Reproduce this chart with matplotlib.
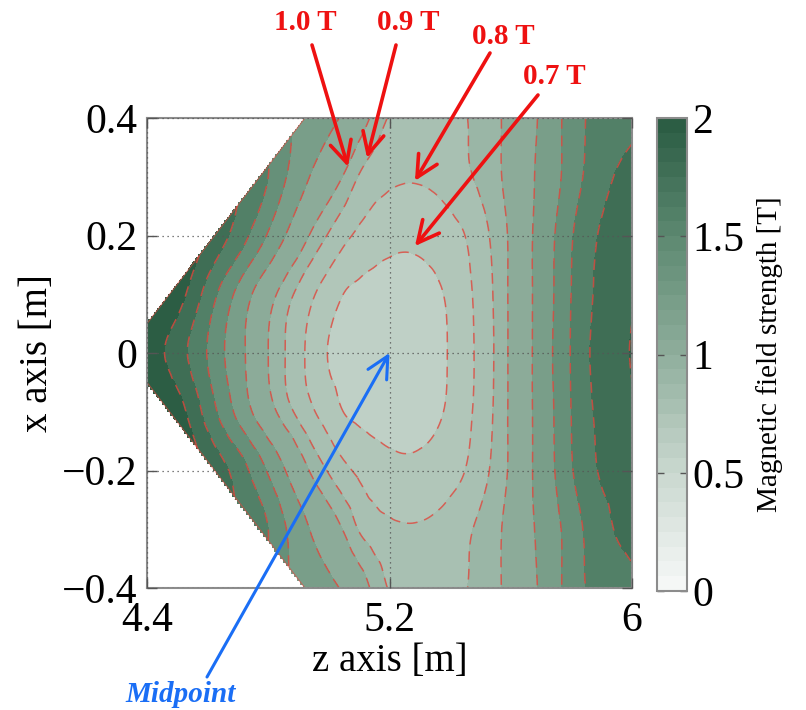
import numpy as np
import matplotlib
matplotlib.use("Agg")
import matplotlib.pyplot as plt
import matplotlib.tri as mtri
from matplotlib.colors import LinearSegmentedColormap, ListedColormap, Normalize
from matplotlib.cm import ScalarMappable

plt.rcParams["font.family"] = ["Liberation Serif", "DejaVu Serif"]

# ---- field samples: B [T] on a z/x grid (x >= 0 rows, mirrored about x = 0) ----
z_nodes = np.linspace(4.40, 6.00, 33)
x_rows = [0.0, 0.1, 0.2, 0.3, 0.4]

B_x00 = [2.15, 2.02, 1.89, 1.75, 1.59, 1.42, 1.27, 1.13, 1.00, 0.91, 0.83, 0.76,
         0.695, 0.666, 0.646, 0.634, 0.630, 0.635, 0.650, 0.673,
         0.708, 0.764, 0.829, 0.911, 1.022, 1.144, 1.282, 1.439, 1.613, 1.774, 1.87, 1.95,
         2.01]
B_x01 = [2.45, 2.25, 2.10, 1.92, 1.72, 1.53, 1.35, 1.19, 1.06, 0.955, 0.875, 0.806,
         0.751, 0.698, 0.679, 0.667, 0.661, 0.661, 0.669, 0.685,
         0.716, 0.771, 0.836, 0.916, 1.022, 1.144, 1.277, 1.425, 1.603, 1.755, 1.847, 1.915,
         1.98]
B_x02 = [2.60, 2.45, 2.30, 2.12, 1.98, 1.85, 1.72, 1.55, 1.38, 1.22, 1.08, 0.97,
         0.89, 0.825, 0.781, 0.749, 0.729, 0.720, 0.724, 0.738,
         0.764, 0.801, 0.861, 0.931, 1.022, 1.144, 1.274, 1.414, 1.583, 1.723, 1.823, 1.877,
         1.93]
B_x03 = [2.50, 2.35, 2.20, 2.08, 1.97, 1.87, 1.80, 1.74, 1.60, 1.43, 1.29, 1.17,
         1.08, 0.99, 0.893, 0.846, 0.820, 0.809, 0.810, 0.821,
         0.845, 0.882, 0.920, 0.972, 1.048, 1.143, 1.245, 1.357, 1.494, 1.63, 1.73, 1.816,
         1.87]
B_x04 = [2.50, 2.40, 2.25, 2.10, 1.95, 1.82, 1.70, 1.60, 1.51, 1.44, 1.37, 1.312,
         1.248, 1.174, 1.073, 0.971, 0.892, 0.871, 0.861, 0.862,
         0.873, 0.895, 0.935, 0.978, 1.043, 1.13, 1.225, 1.352, 1.482, 1.605, 1.645, 1.69,
         1.74]

# wall of the device: z of the left boundary as a function of |x|
wall_absx = [0.0, 0.05, 0.40]
wall_z = [4.40, 4.40, 4.921]

# contour levels (T)
line_levels = [0.7, 0.8, 0.9, 1.0, 1.2, 1.4, 1.6, 1.8, 2.0]
fill_levels = [0.0] + line_levels + [3.0]
band_values = [0.6] + line_levels  # colour value of each filled band

# ---- colours ----
cmap = LinearSegmentedColormap.from_list(
    "bgreen", ["#f5f7f6", "#c8d7ce", "#8fae9c", "#5e8a72", "#2c5d44"])
cmap32 = ListedColormap(cmap(np.linspace(0, 1, 32)))
norm = Normalize(0, 2)
band_colors = [cmap32(norm(v)) for v in band_values]
red = "#ee1111"
line_red = "#e0483e"
blue = "#1a6ef5"

# ---- build full grid, triangulated in index space for a smooth refinement ----
rows = [B_x00, B_x01, B_x02, B_x03, B_x04]
x_full = np.array([-x for x in x_rows[:0:-1]] + x_rows)
B_full = np.array(rows[:0:-1] + rows)
ny, nz = B_full.shape
J, I = np.meshgrid(np.arange(ny), np.arange(nz), indexing="ij")
tris = []
for j in range(ny - 1):
    for i in range(nz - 1):
        a = j * nz + i
        b, c, d = a + 1, a + nz, a + nz + 1
        tris += [[a, b, d], [a, d, c]]
tri_idx = mtri.Triangulation(I.ravel().astype(float), J.ravel().astype(float),
                             triangles=np.array(tris))
interp = mtri.CubicTriInterpolator(tri_idx, B_full.ravel(), kind="geom")
refiner = mtri.UniformTriRefiner(tri_idx)
tri_r, B_r = refiner.refine_field(B_full.ravel(), triinterpolator=interp, subdiv=4)

# index space -> physical coordinates
zr = np.interp(tri_r.x, np.arange(nz), z_nodes)
xr = np.interp(tri_r.y, np.arange(ny), x_full)
tri_f = mtri.Triangulation(zr, xr, triangles=tri_r.triangles)
cz = zr[tri_f.triangles].mean(axis=1)
cx = xr[tri_f.triangles].mean(axis=1)
tri_f.set_mask(cz < np.interp(np.abs(cx), wall_absx, wall_z))

# ---- figure ----
fig = plt.figure(figsize=(8.06, 7.10), dpi=100)
ax = fig.add_axes([147 / 806, 1 - 588 / 710, 485 / 806, 470 / 710])

ax.tricontourf(tri_f, B_r, levels=fill_levels, colors=band_colors)
ax.tricontour(tri_f, B_r, levels=line_levels, colors=line_red,
              linestyles=[(0, (7, 4.5))], linewidths=1.1, alpha=0.8)

# wall outline
wx = np.array([0.4, 0.05, -0.05, -0.4])
wz = np.interp(np.abs(wx), wall_absx, wall_z)
ax.plot(wz, wx, color=line_red, lw=0.8, alpha=0.6)

ax.set_xlim(4.4, 6.0)
ax.set_ylim(-0.4, 0.4)
ax.set_xticks([4.4, 5.2, 6.0])
ax.set_xticklabels(["4.4", "5.2", "6"])
ax.set_yticks([-0.4, -0.2, 0, 0.2, 0.4])
ax.set_yticklabels(["\u22120.4", "\u22120.2", "0", "0.2", "0.4"])
ax.tick_params(direction="in", top=True, right=True, length=7, width=1,
               color="#555555", labelsize=30)
ax.tick_params(axis="x", pad=10)
ax.tick_params(axis="y", pad=7)
ax.grid(True, linestyle=(0, (1, 3)), color="#555555", linewidth=0.9)
ax.set_axisbelow(False)
for s in ax.spines.values():
    s.set_color("#8c8c8c")
    s.set_linewidth(1.5)
ax.set_xlabel("z axis [m]", fontsize=28, labelpad=2)
ax.set_ylabel("x axis [m]", fontsize=28, labelpad=4)

# ---- colour bar ----
cax = fig.add_axes([657 / 806, 1 - 591 / 710, 30 / 806, 473 / 710])
sm = ScalarMappable(norm=norm, cmap=cmap32)
cb = fig.colorbar(sm, cax=cax, ticks=[0, 0.5, 1, 1.5, 2])
cb.ax.set_yticklabels(["0", "0.5", "1", "1.5", "2"])
cb.ax.tick_params(direction="in", left=True, right=True, length=5, width=1,
                  color="#555555", labelsize=30, pad=4)
cb.outline.set_edgecolor("#8c8c8c")
cb.outline.set_linewidth(1.5)
cb.set_label("Magnetic field strength [T]", fontsize=21, labelpad=8)

# ---- annotations ----
def fig_pt(px, py):
    return (px / 806, 1 - py / 710)

arrow_kw = dict(arrowstyle="->,head_length=0.7,head_width=0.35", lw=2.6,
                color=red, shrinkA=0, shrinkB=0, mutation_scale=22)
labels = [
    ("1.0 T", (5.063, 0.317), (312, 45), (305, 22)),
    ("0.9 T", (5.126, 0.332), (396, 45), (408, 22)),
    ("0.8 T", (5.284, 0.293), (490, 53), (503, 36)),
    ("0.7 T", (5.284, 0.182), (538, 95), (554, 76)),
]
for text, tip, tail, tpos in labels:
    ax.annotate("", xy=tip, xycoords="data", xytext=fig_pt(*tail),
                textcoords="figure fraction", arrowprops=arrow_kw,
                annotation_clip=False)
    fig.text(*fig_pt(*tpos), text, color=red, fontsize=21, fontweight="bold",
             ha="center", va="center")

ax.annotate("", xy=(5.2, 0.0), xycoords="data", xytext=fig_pt(207, 677),
            textcoords="figure fraction",
            arrowprops=dict(arrow_kw, color=blue, lw=2.2),
            annotation_clip=False)
fig.text(*fig_pt(181, 694), "Midpoint", color=blue, fontsize=21,
         fontweight="bold", fontstyle="italic", ha="center", va="center")

fig.savefig("out.png", dpi=100)
